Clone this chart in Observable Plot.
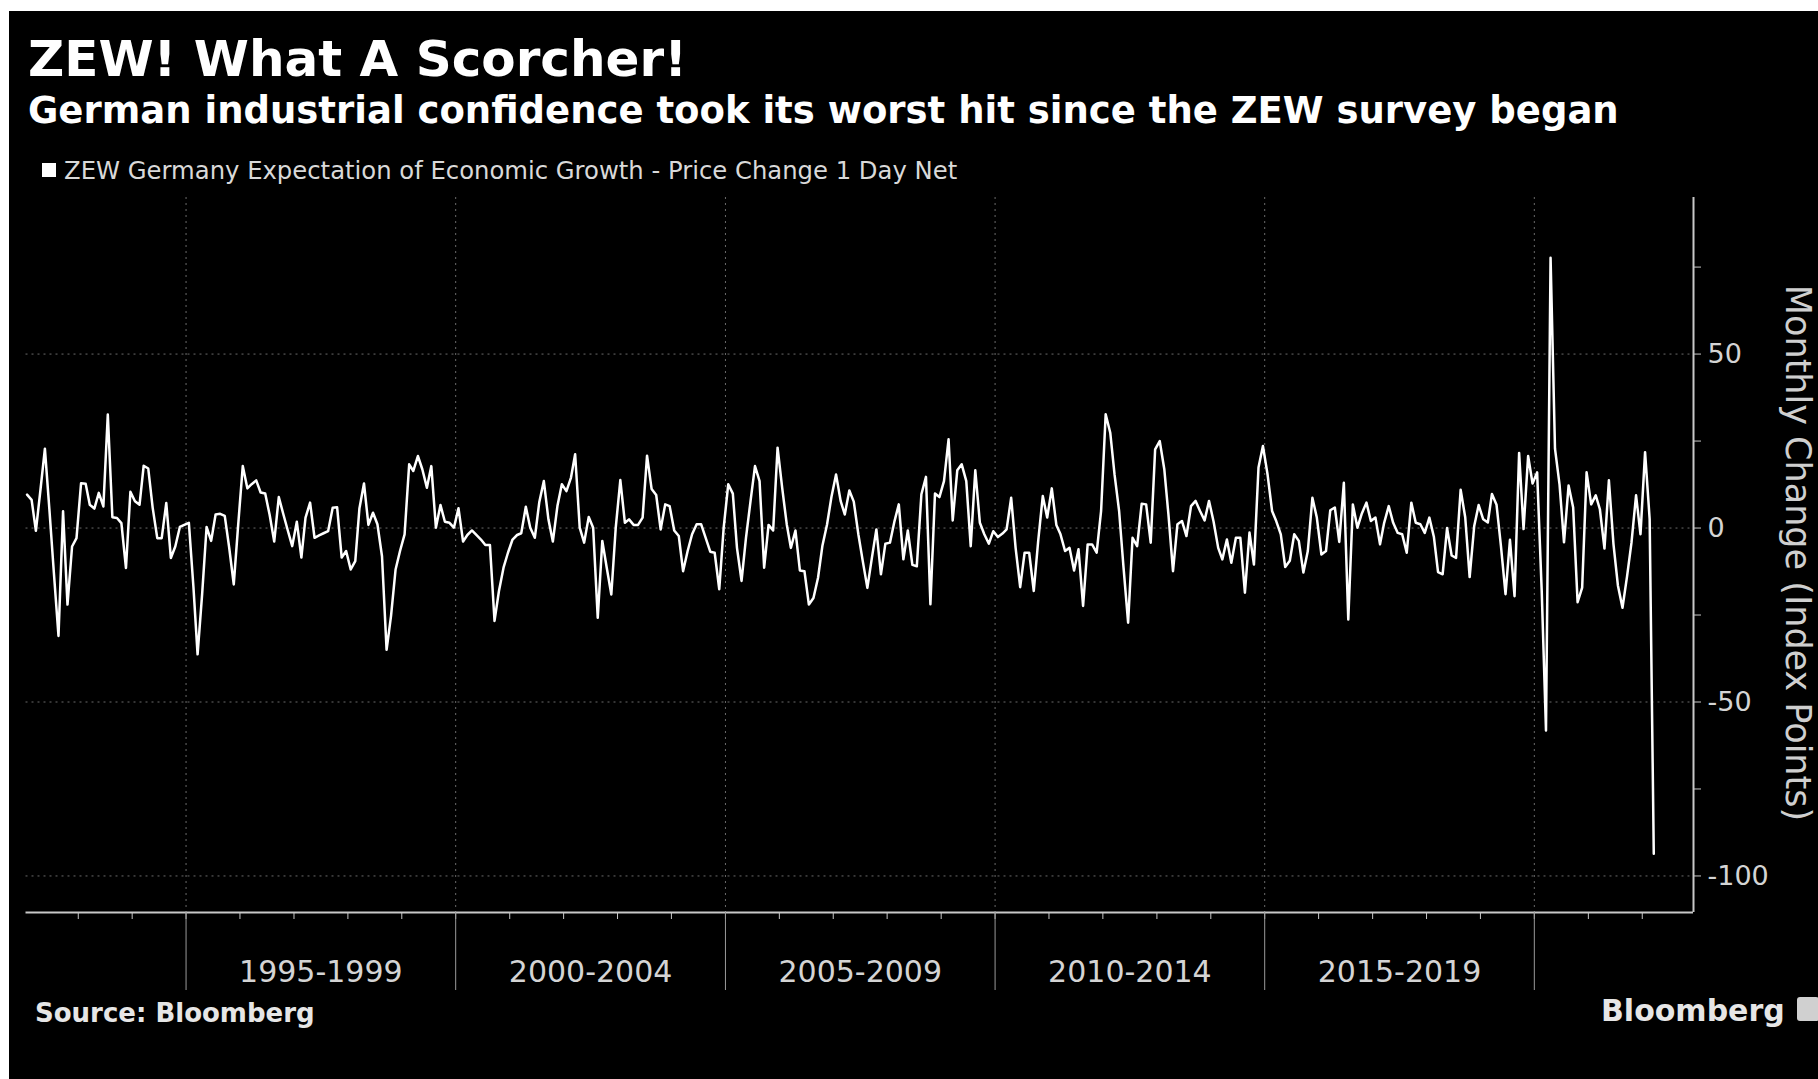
<!DOCTYPE html>
<html>
<head>
<meta charset="utf-8">
<script src="https://cdn.jsdelivr.net/npm/d3@7"></script>
<script src="https://cdn.jsdelivr.net/npm/@observablehq/plot@0.6"></script>
<style>
  html, body { margin: 0; padding: 0; background: #fff; width: 1818px; height: 1079px; overflow: hidden; }
  body { position: relative; font-family: "DejaVu Sans", sans-serif; }
  #card { position: absolute; left: 9px; top: 11px; right: 0; bottom: 0; background: #000; }
  .abs { position: absolute; white-space: nowrap; line-height: 1; }
  #title { left: 28px; top: 34px; font-size: 50px; font-weight: bold; color: #fff; }
  #subtitle { left: 28px; top: 92px; font-size: 37px; font-weight: bold; color: #fff; }
  #legend-swatch { position: absolute; left: 42px; top: 163px; width: 14px; height: 14px; background: #fff; }
  #legend-text { left: 64px; top: 159px; font-size: 24.3px; color: #d9d9d9; }
  #ylabel { left: 1797px; top: 553px; font-size: 35px; color: #cfcfcf; transform: translate(-50%, -50%) rotate(90deg); }
  #source { left: 35px; top: 1000px; font-size: 26px; font-weight: bold; color: #e6e6e6; }
  #brand { left: 1601px; top: 996px; font-size: 30px; font-weight: bold; color: #e6e6e6; }
  #brand-icon { position: absolute; left: 1797px; top: 997px; width: 22px; height: 24px; background: #d0d0d0; border-radius: 3px; }
  #chart { position: absolute; left: 0; top: 190px; }
</style>
</head>
<body>
<div id="card"></div>
<div id="title" class="abs">ZEW! What A Scorcher!</div>
<div id="subtitle" class="abs">German industrial confidence took its worst hit since the ZEW survey began</div>
<div id="legend-swatch"></div>
<div id="legend-text" class="abs">ZEW Germany Expectation of Economic Growth - Price Change 1 Day Net</div>
<div id="chart"></div>
<div id="ylabel" class="abs">Monthly Change (Index Points)</div>
<div id="source" class="abs">Source: Bloomberg</div>
<div id="brand" class="abs">Bloomberg</div>
<div id="brand-icon"></div>
<script>
// Monthly change of the ZEW expectations index, first value = January 1992
const firstYear = 1992;
const changes1992_1994 = [
  9.6, 8.1, -0.8, 11, 22.8, 5, -13, -31, 4.8, -22, -5.3, -2.9,
  12.9, 12.7, 6.7, 5.6, 10.1, 6.2, 32.6, 3.1, 2.9, 1.4, -11.5, 10.4,
  7.7, 6.7, 17.9, 17.1, 5.8, -2.9, -2.9, 7.2, -8.6, -5.3, 0.3, 0.9
];
const changes1995_1999 = [
  1.5, -17, -36.3, -18.9, 0.3, -3.7, 3.9, 4.1, 3.5, -5.6, -16.2, 0.9,
  17.8, 11.4, 12.6, 13.7, 10.2, 9.9, 3.8, -3.9, 8.9, 4.1, -0.7, -5.2,
  1.8, -8.5, 3.0, 7.3, -2.8, -2.1, -1.5, -0.9, 5.8, 6.0, -8.5, -6.6,
  -11.9, -9.5, 5.6, 12.8, 0.9, 4.4, 1.1, -8.1, -35, -25.3, -11.9, -6.6,
  -1.8, 18.3, 16.4, 20.7, 16.9, 11.6, 17.8, 0.1, 6.6, 1.8, 1.5, 0.1
];
const changes2000_2004 = [
  5.7, -3.9, -2, -0.7, -2, -3.3, -4.9, -4.9, -26.7, -18.1, -11.4, -7.1,
  -3.3, -2, -1.5, 6.1, 0.1, -2.8, 7.4, 13.5, 2.5, -3.9, 6.3, 12.6,
  10.6, 14.5, 21.2, 0.1, -4.2, 3.2, 0.1, -25.8, -3.7, -11.4, -19.1, 0.1,
  13.8, 1.5, 2.5, 0.9, 0.9, 3.0, 20.8, 11.2, 9.5, -0.4, 6.8, 6.3,
  -0.7, -2.3, -12.4, -6.6, -1.8, 1.1, 1.1, -2.8, -6.8, -7.1, -17.6, 0.1
];
const changes2005_2009 = [
  12.6, 9.9, -5.7, -15.2, -2.8, 7.8, 17.8, 13.5, -11.4, 0.9, -0.7, 23.1,
  11.6, 1.1, -5.7, -0.7, -12.2, -12.4, -22, -20.1, -14.3, -5, 1, 9,
  15.4, 7.8, 3.9, 10.8, 7.6, -1.8, -9.5, -17.2, -8.5, -0.4, -13.3, -4.5,
  -4.2, 2.0, 6.8, -9.0, -0.7, -10.6, -11, 9.7, 14.7, -21.9, 9.9, 8.9,
  13.5, 25.5, 2.2, 16.6, 18.3, 13.5, -5.2, 16.6, 1.5, -1.8, -4.5, -0.9
];
const changes2010_2014 = [
  -2.6, -1.6, -0.4, 8.7, -5.7, -17, -7.1, -7.1, -18.1, -3.7, 9.2, 3.0,
  11.4, 0.9, -1.8, -6.6, -5.7, -12.2, -6.1, -22.4, -4.7, -4.7, -7.1, 4.9,
  32.7, 27.4, 15.4, 4.9, -11.4, -27.2, -2.8, -5.2, 7, 6.8, -4.2, 22.6,
  25, 16.9, 3.9, -12.4, 1.1, 2, -2.3, 6.3, 7.8, 4.9, 2.2, 7.8,
  1.8, -5.7, -9, -3.3, -10, -2.8, -2.8, -18.6, -1.3, -10.5, 17.4, 23.6
];
const changes2015_2019 = [
  15.5, 4.9, 2, -1.8, -11.2, -9.4, -1.8, -3.7, -12.8, -6.6, 8.7, 3,
  -7.6, -6.6, 5.1, 5.9, -4, 13, -26.3, 6.8, 0.1, 4.2, 7.3, 2,
  3, -4.7, 1.5, 6.3, 1.5, -1.4, -1.8, -7.1, 7.3, 1.5, 1.1, -1.4,
  3.0, -2.6, -12.7, -13.3, 0, -7.9, -8.6, 11, 3.1, -14.1, 0.6, 6.6,
  2.5, 1.6, 9.8, 6.7, -5.2, -19, -3.4, -19.6, 21.6, -0.3, 20.7, 12.8
];
const changes2020_2022 = [
  16, -18, -58.2, 77.7, 22.8, 12.4, -4.1, 12.2, 5.9, -21.3, -17.1, 16,
  6.8, 9.4, 5.4, -5.9, 13.7, -4.6, -16.5, -22.9, -13.9, -4.2, 9.4, -1.8,
  21.8, 2.6, -93.6
];

// Axis labelling
const bandStartYears = [1995, 2000, 2005, 2010, 2015, 2020];
const bandLabels = ["1995-1999", "2000-2004", "2005-2009", "2010-2014", "2015-2019"];
const yTickValues = [-100, -75, -50, -25, 0, 25, 50, 75];
const yLabelValues = [-100, -50, 0, 50];
const yGridValues = [-100, -50, 0, 50];
const yDomain = [-110.5, 95];
const xDomain = [new Date(Date.UTC(1992, 0, 13)), new Date(Date.UTC(2022, 11, 14))];

const allChanges = [].concat(changes1992_1994, changes1995_1999, changes2000_2004,
  changes2005_2009, changes2010_2014, changes2015_2019, changes2020_2022);
const series = allChanges.map((v, i) => ({ date: new Date(Date.UTC(firstYear, i, 20)), value: v }));

const bandStarts = bandStartYears.map(y => new Date(Date.UTC(y, 0, 1)));
const bandMids = bandLabels.map((l, i) => new Date((Date.UTC(bandStartYears[i], 0, 1) + Date.UTC(bandStartYears[i] + 5, 0, 1)) / 2));
const yearStarts = d3.range(1993, 2023).map(y => new Date(Date.UTC(y, 0, 1)));
const labelForMid = d => {
  const i = bandMids.findIndex(m => Math.abs(m - d) < 864e5);
  return i >= 0 ? bandLabels[i] : "";
};

const W = 1818, svgTop = 190, svgH = 810;
const plotTop = 197, plotBottom = 912, plotLeft = 25.5, plotRight = 1693;
const axisColor = "#c8c8c8";
const gridColor = "#6a6a6a";

const chart = Plot.plot({
  width: W,
  height: svgH,
  marginTop: plotTop - svgTop,
  marginBottom: svgTop + svgH - plotBottom,
  marginLeft: plotLeft,
  marginRight: W - plotRight,
  style: { background: "transparent", color: "#d4d4d4", fontFamily: "DejaVu Sans", fontSize: "27px", overflow: "visible" },
  x: { type: "utc", domain: xDomain },
  y: { domain: yDomain },
  marks: [
    Plot.ruleY(yGridValues, { stroke: gridColor, strokeDasharray: "2,4", strokeWidth: 1 }),
    Plot.ruleX(bandStarts, { stroke: gridColor, strokeDasharray: "2,4", strokeWidth: 1 }),
    Plot.line(series, { x: "date", y: "value", stroke: "#ffffff", strokeWidth: 2.5 }),
    Plot.ruleX([xDomain[1]], { stroke: axisColor, strokeWidth: 2 }),
    Plot.ruleY([yDomain[0]], { stroke: axisColor, strokeWidth: 2 }),
    Plot.axisY({ anchor: "right", ticks: yTickValues, tickSize: 7, tickPadding: 7, label: null,
      stroke: axisColor, fill: "#d4d4d4", fontSize: 27,
      tickFormat: d => yLabelValues.includes(d) ? String(d) : "" }),
    Plot.axisX({ ticks: yearStarts, tickSize: 7, tickFormat: () => "", label: null, stroke: axisColor }),
    Plot.axisX({ ticks: bandStarts, tickSize: 78, tickFormat: () => "", label: null, stroke: "#9a9a9a" }),
    Plot.axisX({ ticks: bandMids, tickSize: 0, tickPadding: 48, label: null, fontSize: 30,
      fill: "#d4d4d4", tickFormat: labelForMid })
  ]
});
document.getElementById("chart").appendChild(chart);
</script>
</body>
</html>
